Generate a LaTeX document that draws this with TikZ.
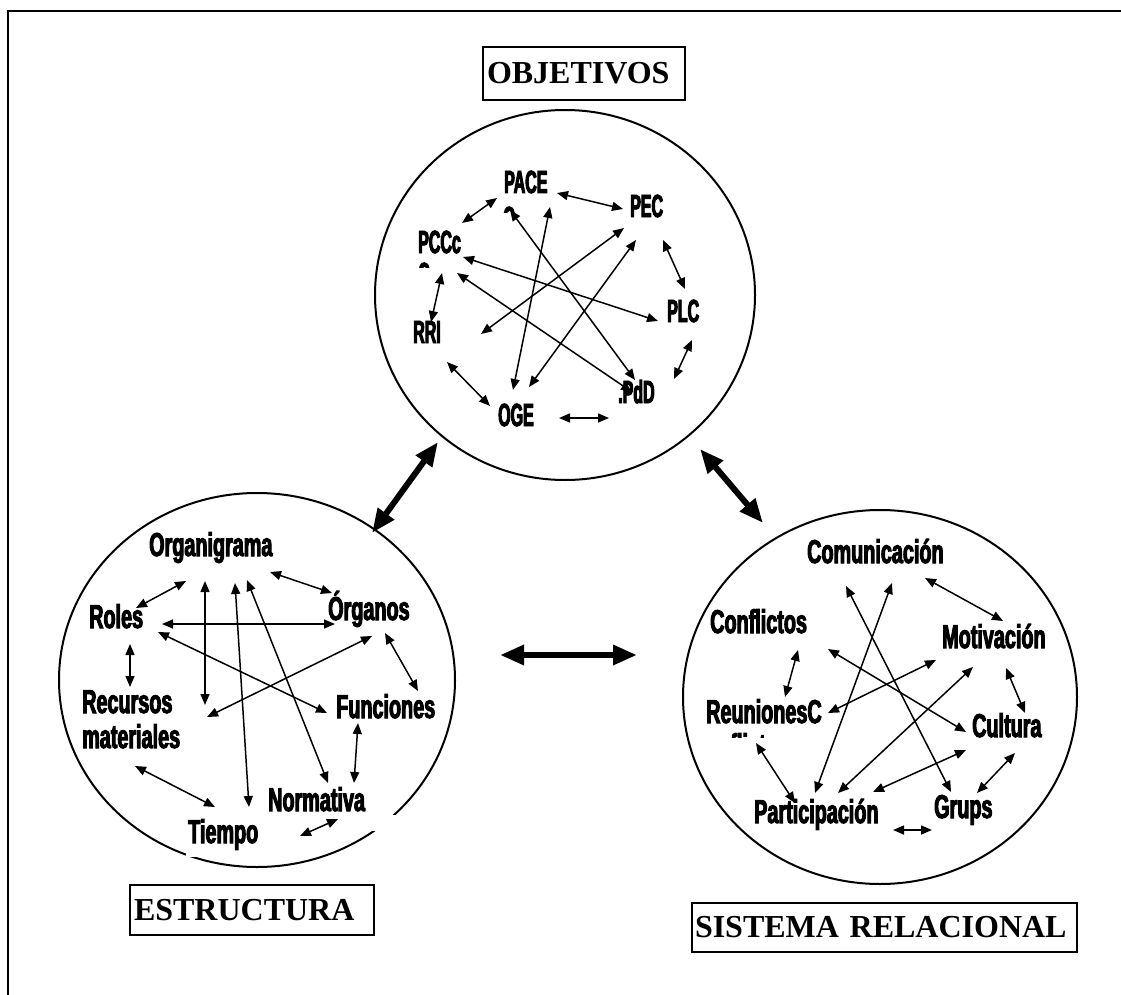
\documentclass[tikz,border=0pt]{standalone}
\usepackage{fontspec}
\setmainfont{Liberation Serif}
\newfontfamily\lblfont[FakeStretch=0.6,BoldFeatures={FakeBold=3}]{Liberation Sans}
\newfontfamily\capfont[FakeStretch=0.5,BoldFeatures={FakeBold=3}]{Liberation Sans}
\usetikzlibrary{arrows.meta,shapes.geometric}
\begin{document}
\begin{tikzpicture}[x=1pt,y=-1pt,
  lbl/.style={inner sep=0pt, anchor=base west, font=\lblfont\bfseries\fontsize{33}{36}\selectfont},
  capl/.style={inner sep=0pt, anchor=base west, font=\capfont\bfseries\fontsize{32}{36}\selectfont},
  lk/.style={line width=1.5pt, {Triangle[length=11pt,width=9pt]}-{Triangle[length=11pt,width=9pt]}},
  big/.style={line width=6pt, {Triangle[length=24pt,width=19pt]}-{Triangle[length=24pt,width=19pt]}},
  ring/.style={draw, ellipse, line width=2pt, inner sep=0pt},
  titlebox/.style={draw, line width=2pt, anchor=north west, inner ysep=0pt, align=left,
    font=\bfseries\fontsize{32}{36}\selectfont}]
\useasboundingbox (0,0) rectangle (1121,995);

% page frame
\draw[line width=2.5pt] (1121,11) -- (8,11) -- (8,995);

% the three rings
\node[ring, minimum width=380pt, minimum height=370pt] (cobj) at (565,295) {};
\node[ring, minimum width=396pt, minimum height=374pt] (cest) at (257,680) {};
\node[ring, minimum width=394pt, minimum height=374pt] (crel) at (880,697) {};

% white text frames that hide parts of the left ring
\fill[white] (370,815) rectangle (400,831);
\fill[white] (186,845) rectangle (236,857);

% titles
\node[titlebox, text width=194pt, inner xsep=4pt, minimum height=53pt] (tobj) at (482,46) {OBJETIVOS};
\node[titlebox, text width=236pt, inner xsep=4pt, minimum height=50pt] (test) at (129,884) {ESTRUCTURA};
\node[titlebox, text width=379pt, inner xsep=3pt, minimum height=49pt] (trel) at (691,902) {SISTEMA RELACIONAL};

% ---- OBJETIVOS ----
\node[capl] (pace) at (504,193) {PACE};
\node[capl] (pec)  at (630,217) {PEC};
\node[capl] (pccc) at (418,253) {PCCc};
\node[capl] (rri)  at (413,343) {RRI};
\node[capl] (plc)  at (667,322) {PLC};
\node[capl] (pdd)  at (618,403) {.PdD};
\node[capl] (oge)  at (498,426) {OGE};
\begin{scope}
  \clip (495,200) rectangle (530,212);
  \node[capl] (pace2) at (503,229) {C};
\end{scope}
\begin{scope}
  \clip (410,258) rectangle (440,267);
  \node[capl] (pccc2) at (418,285) {C};
\end{scope}

\draw[lk] ([shift={(44,-30)}]pccc.base west) -- ([shift={(-7,5)}]pace.base west);
\draw[lk] ([shift={(53,0)}]pace.base west) -- ([shift={(-7,-8)}]pec.base west);
\draw[lk] ([shift={(33,23)}]pec.base west) -- ([shift={(18,-33)}]plc.base west);
\draw[lk] ([shift={(25,18)}]plc.base west) -- ([shift={(56,-24)}]pdd.base west);
\draw[lk] ([shift={(61,-8)}]oge.base west) -- ([shift={(-9,15)}]pdd.base west);
\draw[lk] ([shift={(34,19)}]rri.base west) -- ([shift={(-8,-20)}]oge.base west);
\draw[lk] ([shift={(24,20)}]pccc.base west) -- ([shift={(18,-21)}]rri.base west);
\draw[lk] ([shift={(46,14)}]pace.base west) -- ([shift={(15,-36)}]oge.base west);
\draw[lk] ([shift={(6,17)}]pace.base west) -- ([shift={(17,-23)}]pdd.base west);
\draw[lk] ([shift={(-6,11)}]pec.base west) -- ([shift={(68,-9)}]rri.base west);
\draw[lk] ([shift={(6,23)}]pec.base west) -- ([shift={(31,-39)}]oge.base west);
\draw[lk] ([shift={(45,4)}]pccc.base west) -- ([shift={(-9,-1)}]plc.base west);
\draw[lk] ([shift={(39,20)}]pccc.base west) -- ([shift={(14,-11)}]pdd.base west);

% ---- ESTRUCTURA ----
\node[lbl] (org) at (149,556) {Organigrama};
\node[lbl] (rol) at (89,628) {Roles};
\node[lbl] (ogn) at (328,620) {Órganos};
\node[lbl] (rec) at (82,713) {Recursos};
\node[lbl] (mat) at (82,748) {materiales};
\node[lbl] (fun) at (336,718) {Funciones};
\node[lbl] (nor) at (268,811) {Normativa};
\node[lbl] (tie) at (188,843) {Tiempo};

\draw[lk] ([shift={(47,-20)}]rol.base west) -- ([shift={(37,25)}]org.base west);
\draw[lk] ([shift={(121,16)}]org.base west) -- ([shift={(4,-27)}]ogn.base west);
\draw[lk] ([shift={(73,-4)}]rol.base west) -- ([shift={(7,4)}]ogn.base west);
\draw[lk] ([shift={(41,16)}]rol.base west) -- ([shift={(48,-26)}]rec.base west);
\draw[lk] ([shift={(56,25)}]org.base west) -- ([shift={(123,-8)}]rec.base west);
\draw[lk] ([shift={(86,27)}]org.base west) -- ([shift={(61,-36)}]tie.base west);
\draw[lk] ([shift={(98,24)}]org.base west) -- ([shift={(60,-28)}]nor.base west);
\draw[lk] ([shift={(69,4)}]rol.base west) -- ([shift={(-9,-5)}]fun.base west);
\draw[lk] ([shift={(44,16)}]ogn.base west) -- ([shift={(125,4)}]rec.base west);
\draw[lk] ([shift={(57,13)}]ogn.base west) -- ([shift={(82,-27)}]fun.base west);
\draw[lk] ([shift={(22,5)}]fun.base west) -- ([shift={(86,-28)}]nor.base west);
\draw[lk] ([shift={(53,18)}]mat.base west) -- ([shift={(27,-36)}]tie.base west);
\draw[lk] ([shift={(112,-7)}]tie.base west) -- ([shift={(70,8)}]nor.base west);

% ---- SISTEMA RELACIONAL ----
\node[lbl] (com) at (807,563) {Comunicación};
\node[lbl] (cnf) at (710,633) {Conflictos};
\node[lbl] (mot) at (942,648) {Motivación};
\node[lbl] (reu) at (706,723) {ReunionesC};
\node[lbl] (cul) at (972,737) {Cultura};
\node[lbl] (par) at (754,823) {Participación};
\node[lbl] (gru) at (934,818) {Grups};
\begin{scope}
  \clip (700,728) rectangle (820,737);
  \node[lbl] (reu2) at (706,757) {onflictos};
\end{scope}

\draw[lk] ([shift={(118,15)}]com.base west) -- ([shift={(61,-27)}]mot.base west);
\draw[lk] ([shift={(88,17)}]cnf.base west) -- ([shift={(79,-26)}]reu.base west);
\draw[lk] ([shift={(118,16)}]cnf.base west) -- ([shift={(-6,-5)}]cul.base west);
\draw[lk] ([shift={(39,23)}]com.base west) -- ([shift={(17,-26)}]gru.base west);
\draw[lk] ([shift={(85,20)}]com.base west) -- ([shift={(61,-30)}]par.base west);
\draw[lk] ([shift={(122,-10)}]reu.base west) -- ([shift={(-6,12)}]mot.base west);
\draw[lk] ([shift={(84,-30)}]par.base west) -- ([shift={(31,19)}]mot.base west);
\draw[lk] ([shift={(64,20)}]mot.base west) -- ([shift={(53,-24)}]cul.base west);
\draw[lk] ([shift={(119,-31)}]par.base west) -- ([shift={(-6,13)}]cul.base west);
\draw[lk] ([shift={(43,16)}]cul.base west) -- ([shift={(43,-25)}]gru.base west);
\draw[lk] ([shift={(50,20)}]reu.base west) -- ([shift={(41,-20)}]par.base west);
\draw[lk] ([shift={(139,7)}]par.base west) -- ([shift={(-2,12)}]gru.base west);

% ---- links between the rings ----
\draw[big] ([shift={(-127,147)}]cobj.center) -- ([shift={(115,-147)}]cest.center);
\draw[big] ([shift={(135,154)}]cobj.center) -- ([shift={(-117,-174)}]crel.center);
\draw[big] ([shift={(243,-25)}]cest.center) -- ([shift={(-243,-42)}]crel.center);
\end{tikzpicture}
\end{document}
